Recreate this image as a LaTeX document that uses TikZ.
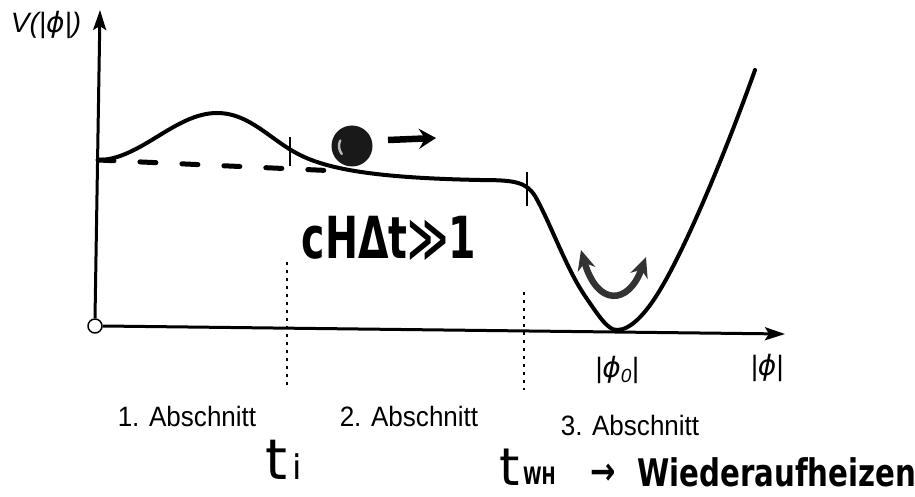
\documentclass[tikz,border=0pt]{standalone}
\usepackage{fontspec}
\setmainfont{Liberation Sans}
\newfontfamily\hand{DejaVu Sans}
\newcommand{\myphi}{{\hand\itshape ϕ}}
\usetikzlibrary{arrows.meta}
\begin{document}
\begin{tikzpicture}[x=1pt,y=-1pt,line join=round,
  axis/.style={line width=3pt,-{Stealth[length=20pt,width=13pt,inset=4pt]}},
  pot/.style={line width=4pt,line cap=round},
  dashpot/.style={line width=5pt,dash pattern=on 16pt off 26pt,line cap=round},
  tickline/.style={line width=1.3pt},
  dotline/.style={line width=1.6pt,dash pattern=on 3pt off 5pt},
  bigarrow/.style={line width=6.5pt,-{Stealth[length=17pt,width=20pt,inset=6pt]}},
  swing/.style={line width=6.5pt,black!80,{Stealth[length=20pt,width=18pt]}-{Stealth[length=20pt,width=18pt]}},
  lab/.style={inner sep=0pt,font=\fontsize{28}{30}\selectfont},
  handtxt/.style={inner sep=0pt,font=\hand\bfseries},
  handthin/.style={inner sep=0pt,font=\hand},
]
\useasboundingbox (0,0) rectangle (915,497);
\fill[white] (0,0) rectangle (915,497);

% axes
\node[draw,circle,line width=1.5pt,minimum size=14pt,inner sep=0pt,fill=white] (origin) at (95,326) {};
\coordinate (ytip) at (100,10);
\coordinate (xtip) at (785,334);
\draw[axis] (origin.north) -- (ytip);
\draw[axis] (origin.east) -- (xtip);

% potential
\coordinate (p0) at (98,160);
\draw[pot] (p0) .. controls (140,160) and (175,113) .. (217,113)
  .. controls (250,113) and (270,140) .. (300,155)
  .. controls (330,170) and (380,178) .. (480,180)
  .. controls (515,180) and (526,182) .. (535,196)
  .. controls (550,222) and (566,268) .. (585,296)
  .. controls (600,318) and (608,330) .. (617,330)
  .. controls (630,330) and (645,315) .. (660,290)
  .. controls (690,240) and (730,140) .. (755,70);
\coordinate (dEnd) at (338,171);
\draw[dashpot] (p0) -- (dEnd);

% short ticks
\coordinate (t1a) at (290,137); \coordinate (t1b) at (290,166);
\draw[tickline] (t1a) -- (t1b);
\coordinate (t2a) at (527,172); \coordinate (t2b) at (527,206);
\draw[tickline] (t2a) -- (t2b);

% dotted separators
\coordinate (d1a) at (287,262); \coordinate (d1b) at (287,388);
\draw[dotline] (d1a) -- (d1b);
\coordinate (d2a) at (524,292); \coordinate (d2b) at (524,390);
\draw[dotline] (d2a) -- (d2b);

% ball and arrow
\node[circle,fill=black!90,minimum size=41pt,inner sep=0pt] (ball) at (352,146) {};
\draw[gray!55,line width=2.4pt,line cap=round] (ball.center) ++(205:13) arc[start angle=205,end angle=142,radius=13];
\coordinate (ra) at (388,140); \coordinate (rb) at (436,138);
\draw[bigarrow] (ra) -- (rb);

% oscillation arrow
\coordinate (sa) at (581,250); \coordinate (sb) at (646,257);
\draw[swing] (sa) .. controls (597,306) and (628,306) .. (sb);

% labels
\node[lab,font=\fontsize{28}{30}\selectfont\itshape] (vlab) at (46,25) {V(|\myphi|)};
\node[lab,font=\fontsize{28}{30}\selectfont\itshape] (phi0) at (617,370) {|\myphi\raisebox{-5pt}{\fontsize{19}{19}\selectfont 0}|};
\node[lab,font=\fontsize{28}{30}\selectfont\itshape] (phi) at (767,368) {|\myphi|};

\node[lab] (ab1) at (187,416) {\scalebox{0.93}[1]{1. Abschnitt}};
\node[lab] (ab2) at (409,416) {\scalebox{0.93}[1]{2. Abschnitt}};
\node[lab] (ab3) at (630,425) {\scalebox{0.93}[1]{3. Abschnitt}};

\node[handtxt,anchor=center] (cond) at (389,238) {\fontsize{58}{60}\selectfont\scalebox{0.68}[1]{cHΔt≫1}};

\node[handthin,anchor=base west] (ti) at (265,479) {\fontsize{56}{58}\selectfont t};
\node[handthin,anchor=base west] (tisub) at (292,479) {\fontsize{34}{36}\selectfont i};

\node[handthin,anchor=base west] (twh) at (499,485) {\fontsize{52}{54}\selectfont t};
\node[handtxt,anchor=base west] (wh) at (523,484) {\fontsize{24}{26}\selectfont\scalebox{0.7}[1]{WH}};
\node[handtxt,anchor=base west] (arr) at (590,484) {\fontsize{38}{40}\selectfont\scalebox{0.8}[1]{→}};
\node[handtxt,anchor=base west] (wied) at (637,486) {\fontsize{38}{40}\selectfont\scalebox{0.77}[1]{Wiederaufheizen}};
\end{tikzpicture}
\end{document}
